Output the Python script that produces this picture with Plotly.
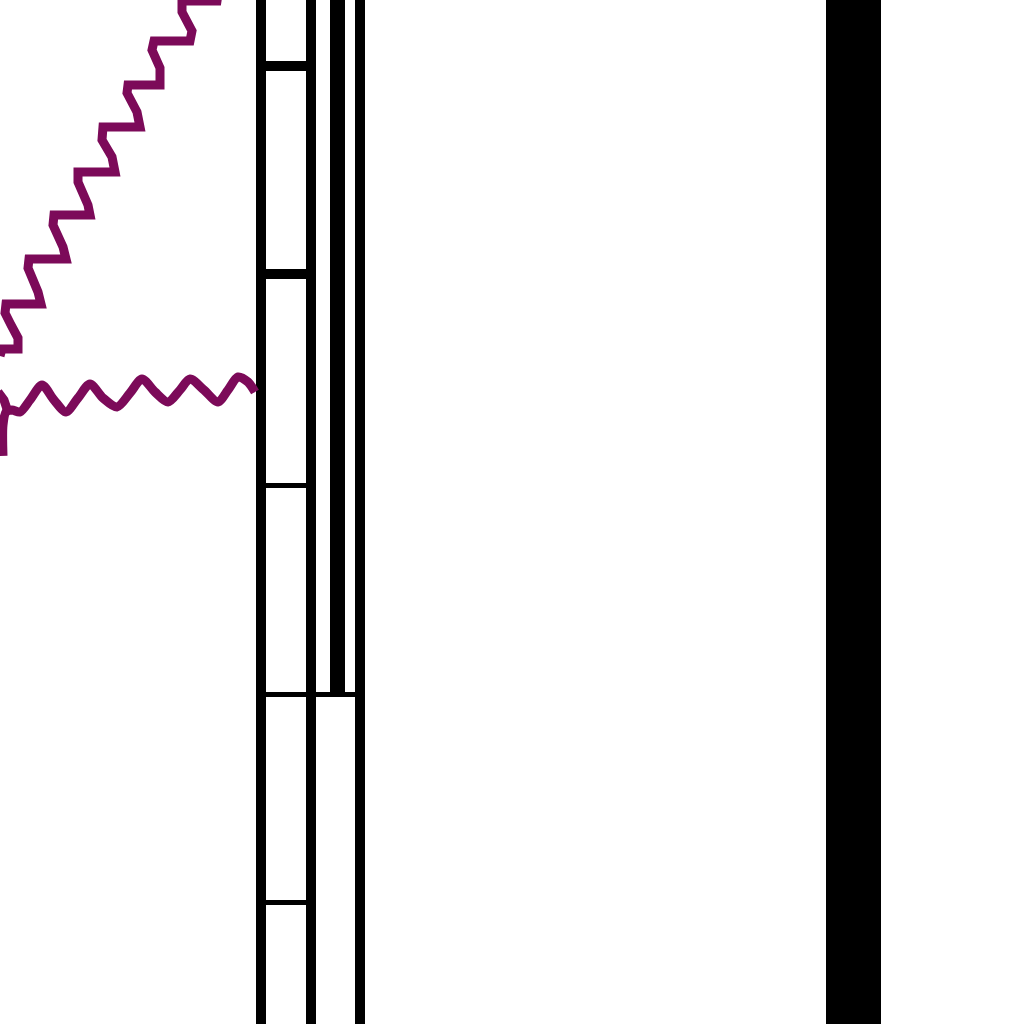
import plotly.graph_objects as go

# ---- data (chart units; y grows downward) ----
# diagonal stepped purple trace
diag_x = [0, 2, 18, 18, 11, 5, 6, 41, 38, 33, 28, 29, 66, 63, 58, 53, 54, 90, 88, 83, 78, 78,
          115, 112, 107, 102, 103, 140, 137, 132, 127, 128, 160, 160, 157, 152, 154, 190, 192,
          187, 182, 182, 217, 219]
diag_y = [356, 349, 349, 338, 325, 313, 304, 304, 292, 278, 268, 259, 259, 247, 235, 225, 215,
          215, 205, 195, 182, 172, 172, 157, 150, 140, 127, 127, 112, 104, 93, 85, 85, 68, 60,
          50, 41, 41, 31, 21, 12, 1, 1, -12]

# wavy purple trace
wave_x = [3, 3, 6, 12, 20, 30, 42, 54, 66, 78, 90, 103, 117, 130, 142, 155, 168, 180, 190, 204,
          218, 228, 238, 248, 255]
wave_y = [456, 425, 412, 410, 412, 400, 385, 400, 412, 398, 384, 398, 407, 393, 379, 392, 402,
          390, 379, 390, 402, 390, 377, 382, 392]
stub_x = [-2, 4, 8]
stub_y = [392, 400, 412]

# vertical rails: centre, width, start, length
rail_x = [261, 311, 337.5, 360, 853.5]
rail_w = [10, 10, 15, 10, 55]
rail_base = [-10, -10, -10, -10, -10]
rail_len = [1044, 1044, 702, 1044, 1044]

# horizontal ticks: centre, thickness, start, length
tick_y = [66, 274, 485.5, 694.5, 902.5]
tick_w = [10, 10, 5, 5, 5]
tick_base = [266, 266, 266, 266, 266]
tick_len = [40, 40, 40, 89, 40]

PURPLE = "#7c0a59"
BLACK = "#000000"

fig = go.Figure()
fig.add_trace(go.Bar(x=rail_x, y=rail_len, base=rail_base, width=rail_w,
                     orientation="v", marker=dict(color=BLACK, line=dict(width=0)),
                     showlegend=False, hoverinfo="skip"))
fig.add_trace(go.Bar(y=tick_y, x=tick_len, base=tick_base, width=tick_w,
                     orientation="h", marker=dict(color=BLACK, line=dict(width=0)),
                     showlegend=False, hoverinfo="skip"))
fig.add_trace(go.Scatter(x=diag_x, y=diag_y, mode="lines",
                         line=dict(color=PURPLE, width=9, shape="linear"),
                         showlegend=False, hoverinfo="skip"))
fig.add_trace(go.Scatter(x=wave_x, y=wave_y, mode="lines",
                         line=dict(color=PURPLE, width=9, shape="spline", smoothing=0.8),
                         showlegend=False, hoverinfo="skip"))
fig.add_trace(go.Scatter(x=stub_x, y=stub_y, mode="lines",
                         line=dict(color=PURPLE, width=9),
                         showlegend=False, hoverinfo="skip"))

fig.update_layout(
    width=1024, height=1024,
    margin=dict(l=0, r=0, t=0, b=0, pad=0),
    paper_bgcolor="white", plot_bgcolor="white",
    barmode="overlay", bargap=0,
    xaxis=dict(range=[0, 1024], visible=False, fixedrange=True),
    yaxis=dict(range=[1024, 0], visible=False, fixedrange=True),
)

fig.write_html(
    "out.html",
    config={"displayModeBar": False},
    post_script="document.body.style.margin='0';document.body.style.overflow='hidden';",
)
